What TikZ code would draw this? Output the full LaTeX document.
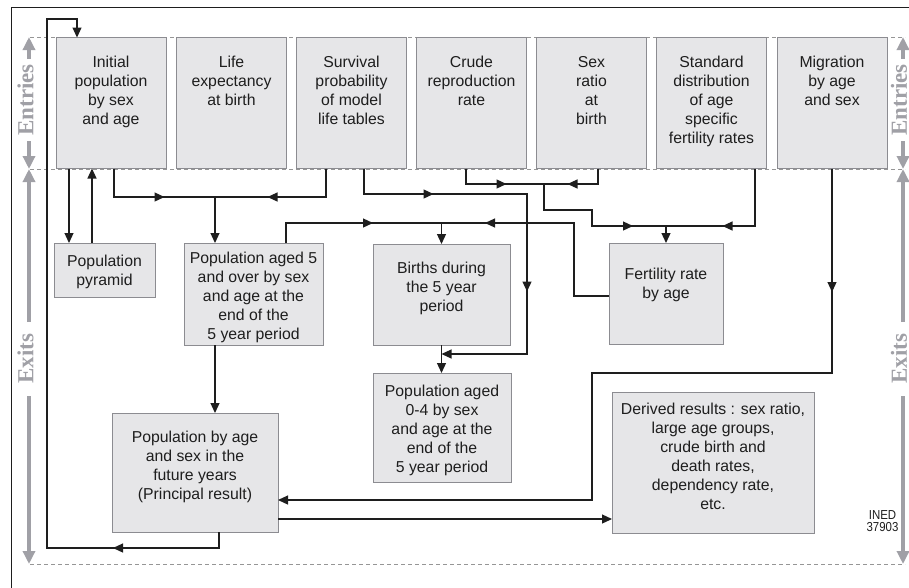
\documentclass[tikz,border=0pt]{standalone}
\usepackage{fontspec}
\setmainfont{Liberation Sans}
\newfontfamily\labfont{Liberation Serif}
\newfontfamily\inedfont[FakeStretch=0.88]{Liberation Sans}
\usetikzlibrary{arrows.meta,decorations.markings,calc}

\definecolor{boxfill}{RGB}{230,230,232}
\definecolor{boxline}{RGB}{140,140,145}
\definecolor{guide}{RGB}{160,160,166}
\definecolor{dashc}{RGB}{150,150,150}
\definecolor{ink}{RGB}{30,30,30}

\tikzset{
  ebox/.style={draw=boxline,fill=boxfill,line width=0.9pt,minimum width=110pt,minimum height=131pt,inner sep=0pt,outer sep=0pt},
  rbox/.style={draw=boxline,fill=boxfill,line width=0.9pt,inner sep=0pt,outer sep=0pt},
  txt/.style={align=center,inner sep=0pt,font=\fontsize{15.8pt}{19pt}\selectfont,text=ink},
  conn/.style={draw=ink,line width=1.2pt},
  tip/.style={-{Triangle[length=10pt,width=9pt]}},
  mid/.style={postaction={decorate,decoration={markings,mark=at position #1 with {\arrow{Triangle[length=10pt,width=9pt]}}}}},
  guidearrow/.style={draw=guide,line width=4pt,-{Triangle[length=13pt,width=12pt]}},
  guidetext/.style={text=guide,font=\labfont\bfseries\fontsize{23pt}{23pt}\selectfont,rotate=90,inner sep=0pt},
  dashline/.style={draw=dashc,line width=0.8pt,dash pattern=on 4pt off 3pt},
}

\begin{document}
\begin{tikzpicture}[x=1pt,y=-1pt]
\useasboundingbox (0,0) rectangle (909,587);

% frame
\draw[ink,line width=1pt] (11,600) -- (11,7) -- (915,7);

% dashed separators
\draw[dashline] (30,37) -- (905,37);
\draw[dashline] (30,169) -- (905,169);
\draw[dashline] (30,564) -- (905,564);

% side guides
\draw[guidearrow] (29,59) -- (29,37);
\draw[guidearrow] (29,141) -- (29,169);
\draw[guidearrow] (29,322) -- (29,169);
\draw[guidearrow] (29,396) -- (29,564);
\node[guidetext] (entL) at (25.5,100) {Entries};
\node[guidetext] (exL) at (25.5,358.5) {Exits};
\draw[guidearrow] (903,59) -- (903,37);
\draw[guidearrow] (903,141) -- (903,169);
\draw[guidearrow] (903,322) -- (903,169);
\draw[guidearrow] (903,396) -- (903,564);
\node[guidetext] (entR) at (899,100) {Entries};
\node[guidetext] (exR) at (899,358.5) {Exits};

% entry boxes
\node[ebox] (init)  at (111,103) {};
\node[ebox] (life)  at (231.5,103) {};
\node[ebox] (surv)  at (351.5,103) {};
\node[ebox] (crude) at (471.5,103) {};
\node[ebox] (sexr)  at (591.5,103) {};
\node[ebox] (std)   at (711.5,103) {};
\node[ebox] (mig)   at (832,103) {};
\node[txt,anchor=north] (initT)  at (111,56) {Initial\\population\\by sex\\and age};
\node[txt,anchor=north] (lifeT)  at (231.5,56) {Life\\expectancy\\at birth};
\node[txt,anchor=north] (survT)  at (351.5,56) {Survival\\probability\\of model\\life tables};
\node[txt,anchor=north] (crudeT) at (471.5,56) {Crude\\reproduction\\rate};
\node[txt,anchor=north] (sexrT)  at (591.5,56) {Sex\\ratio\\at\\birth};
\node[txt,anchor=north] (stdT)   at (711.5,56) {Standard\\distribution\\of age\\specific\\fertility rates};
\node[txt,anchor=north] (migT)   at (832,56) {Migration\\by age\\and sex};

% exit boxes
\node[rbox,minimum width=101pt,minimum height=54pt]  (pyr)    at (104.5,270) {};
\node[rbox,minimum width=139pt,minimum height=102pt] (p5)     at (253.5,294) {};
\node[rbox,minimum width=137pt,minimum height=101pt] (births) at (441.5,294.5) {};
\node[rbox,minimum width=114pt,minimum height=101pt] (fert)   at (666,293.5) {};
\node[rbox,minimum width=138pt,minimum height=109pt] (p04)    at (442,427.5) {};
\node[rbox,minimum width=166pt,minimum height=119pt] (princ)  at (195,472.5) {};
\node[rbox,minimum width=202pt,minimum height=141pt] (der)    at (713,462.5) {};
\node[txt] (pyrT)    at (104.5,272) {Population\\pyramid};
\node[txt] (p5T)     at (253.5,297) {Population aged 5\\and over by sex\\and age at the\\end of the\\5 year period};
\node[txt] (birthsT) at (441.5,288.5) {Births during\\the 5 year\\period};
\node[txt] (fertT)   at (666,285) {Fertility rate\\by age};
\node[txt] (p04T)    at (442,430) {Population aged\\0-4 by sex\\and age at the\\end of the\\5 year period};
\node[txt] (princT)  at (195,466.5) {Population by age\\and sex in the\\future years\\(Principal result)};
\node[txt] (derT)    at (713,456.5) {Derived results : sex ratio,\\large age groups,\\crude birth and\\death rates,\\dependency rate,\\etc.};

\node[inner sep=0pt,align=center,text=ink,font=\inedfont\fontsize{13pt}{11.7pt}\selectfont] (ined) at (882.5,521) {INED\\37903};

% connectors
\draw[conn,tip] ([xshift=-42pt]init.south) -- ([xshift=-42pt]init.south |- pyr.north);
\draw[conn,tip] ([xshift=-19pt]init.south |- pyr.north) -- ([xshift=-19pt]init.south);

\coordinate (j1) at (215,197);
\draw[conn,mid=79pt] ([xshift=3pt]init.south) |- (j1);
\draw[conn,mid=87pt] ([xshift=-25.5pt]surv.south) |- (j1);
\draw[conn,tip] (j1) -- (j1 |- p5.north);

\coordinate (k1) at (527,194);
\coordinate (k2) at (527,354);
\draw[conn,mid=95pt,mid=286pt,tip] ([xshift=12.5pt]surv.south) |- (k1) -- (k2) -- (k2 -| births.south);
\draw[conn,tip] (births.south) -- (births.south |- p04.north);

\coordinate (j2) at (544,184);
\draw[conn,mid=56pt] ([xshift=-5.5pt]crude.south) |- (j2);
\draw[conn,mid=46pt] ([xshift=6.5pt]sexr.south) |- (j2);
\coordinate (k3) at (544,210);
\coordinate (k4) at (592,226);
\coordinate (j3) at (666,226);
\draw[conn,mid=131pt] (j2) -- (k3) -| (k4) -- (j3);
\draw[conn,mid=90pt] ([xshift=43.5pt]std.south) |- (j3);
\draw[conn,tip] (j3) -- (j3 |- fert.north);

\coordinate (j4) at (441.5,223);
\coordinate (k5) at (574,223);
\draw[conn,mid=107pt] ([xshift=32.5pt]p5.north) |- (j4);
\draw[conn,mid=197pt] ([yshift=-2.5pt]fert.west) -| (k5) -- (j4);
\draw[conn,tip] (j4) -- (births.north);

\draw[conn,tip] (j1 |- p5.south) -- (j1 |- princ.north);

\coordinate (k6) at (832,373);
\coordinate (k7) at (592,500);
\draw[conn,mid=123.5pt,tip] (mig.south) -- (k6) -| (k7) -- (k7 -| princ.east);

\draw[conn,tip] ([yshift=-46.5pt]princ.east) -- ([yshift=-46.5pt]princ.east -| der.west);

\coordinate (l1) at (47,548);
\coordinate (l2) at (47,19);
\draw[conn,mid=122pt,tip] ([xshift=24pt]princ.south) |- (l1) -- (l2) -| ([xshift=-34pt]init.north);
\end{tikzpicture}
\end{document}
